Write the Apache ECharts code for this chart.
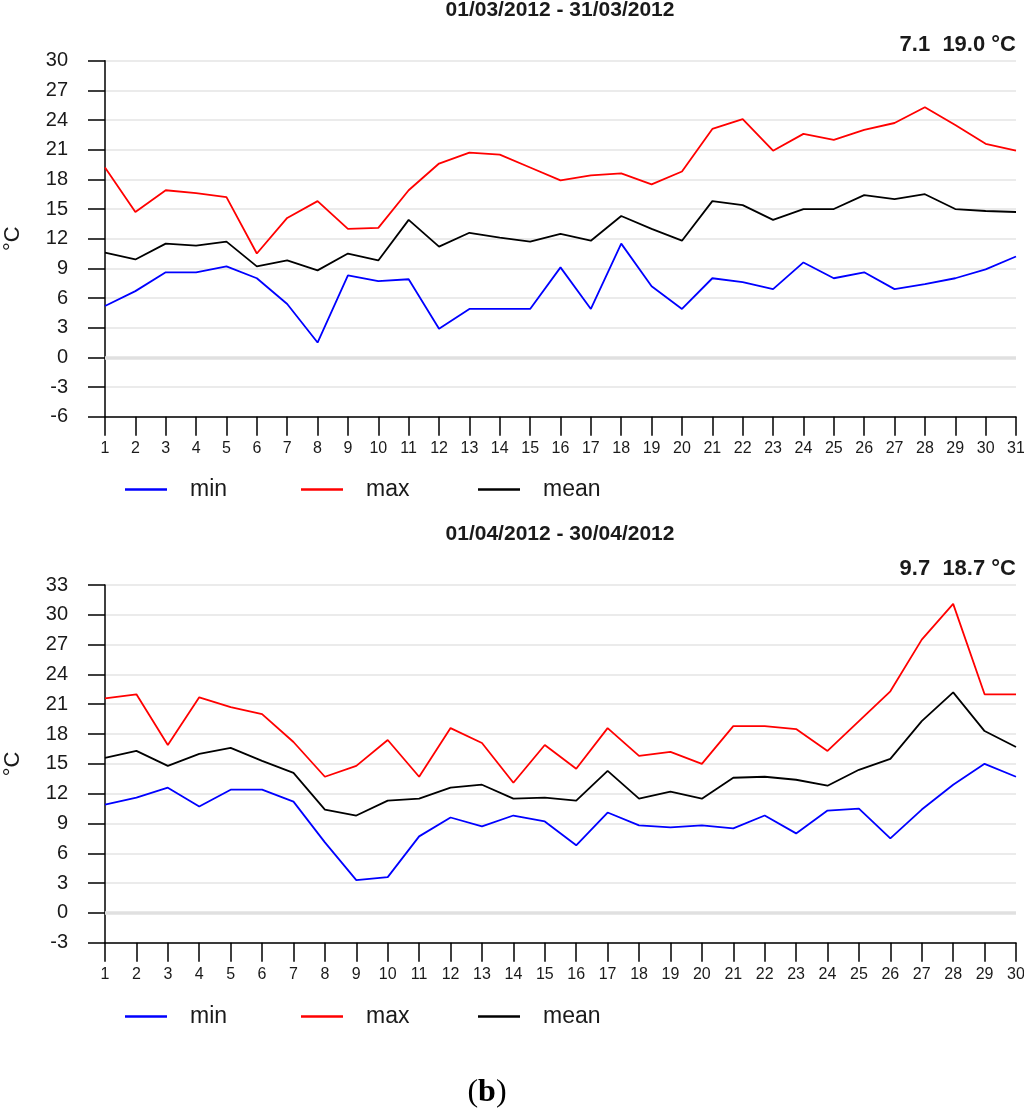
<!DOCTYPE html>
<html>
<head>
<meta charset="utf-8">
<script src="https://cdn.jsdelivr.net/npm/echarts@6/dist/echarts.min.js"></script>
<style>
  html, body { margin: 0; padding: 0; background: #fff; }
  #chart { width: 1024px; height: 1120px; }
</style>
</head>
<body>
<div id="chart"></div>
<script>
// March 2012
const marchDays = [];
for (let d = 1; d <= 31; d++) marchDays.push(d);
const marchMin = [5.2, 6.7, 8.6, 8.6, 9.2, 8.0, 5.4, 1.5, 8.3, 7.7, 7.9, 2.9, 4.9, 4.9, 4.9, 9.1,
  4.9, 11.5, 7.2, 4.9, 8.0, 7.6, 6.9, 9.6, 8.0, 8.6, 6.9, 7.4, 8.0, 8.9, 10.2];
const marchMax = [19.2, 14.7, 16.9, 16.6, 16.2, 10.5, 14.1, 15.8, 13.0, 13.1, 16.9, 19.6, 20.7, 20.5, 19.2, 17.9,
  18.4, 18.6, 17.5, 18.8, 23.1, 24.1, 20.9, 22.6, 22.0, 23.0, 23.7, 25.3, 23.5, 21.6, 20.9];
const marchMean = [10.6, 9.9, 11.5, 11.3, 11.7, 9.2, 9.8, 8.8, 10.5, 9.8, 13.9, 11.2, 12.6, 12.1, 11.7, 12.5,
  11.8, 14.3, 13.0, 11.8, 15.8, 15.4, 13.9, 15.0, 15.0, 16.4, 16.0, 16.5, 15.0, 14.8, 14.7];

// April 2012
const aprilDays = [];
for (let d = 1; d <= 30; d++) aprilDays.push(d);
const aprilMin = [10.9, 11.6, 12.6, 10.7, 12.4, 12.4, 11.2, 7.1, 3.3, 3.6, 7.7, 9.6, 8.7, 9.8, 9.2,
  6.8, 10.1, 8.8, 8.6, 8.8, 8.5, 9.8, 8.0, 10.3, 10.5, 7.5, 10.4, 12.9, 15.0, 13.7];
const aprilMax = [21.6, 22.0, 16.9, 21.7, 20.7, 20.0, 17.2, 13.7, 14.8, 17.4, 13.7, 18.6, 17.1, 13.1, 16.9,
  14.5, 18.6, 15.8, 16.2, 15.0, 18.8, 18.8, 18.5, 16.3, 19.3, 22.3, 27.5, 31.1, 22.0, 22.0];
const aprilMean = [15.6, 16.3, 14.8, 16.0, 16.6, 15.3, 14.1, 10.4, 9.8, 11.3, 11.5, 12.6, 12.9, 11.5, 11.6,
  11.3, 14.3, 11.5, 12.2, 11.5, 13.6, 13.7, 13.4, 12.8, 14.4, 15.5, 19.3, 22.2, 18.3, 16.7];

const titles = ['01/03/2012 - 31/03/2012', '01/04/2012 - 30/04/2012'];
const summaries = ['7.1  19.0 °C', '9.7  18.7 °C'];
const seriesNames = ['min', 'max', 'mean'];
const seriesColors = ['#0000ff', '#ff0000', '#000000'];

const FONT = 'Liberation Sans, Arial, sans-serif';
const TEXT = '#1a1a1a';

const zip = (xs, ys) => xs.map((x, i) => [x, ys[i]]);

const chart = echarts.init(document.getElementById('chart'));

// layout of the two panels
const panels = [
  { top: 60.7, height: 356, yMin: -6, yMax: 30, xMax: 31, days: marchDays,
    data: [marchMin, marchMax, marchMean], legendTop: 478, titleY: 10, subY: 45 },
  { top: 585, height: 357.7, yMin: -3, yMax: 33, xMax: 30, days: aprilDays,
    data: [aprilMin, aprilMax, aprilMean], legendTop: 1005, titleY: 534, subY: 569 }
];

const grid = [], xAxis = [], yAxis = [], series = [], legend = [], graphic = [];

panels.forEach((p, k) => {
  grid.push({ left: 105, right: 8, top: p.top, height: p.height,
    containLabel: false, outerBoundsMode: 'none' });

  xAxis.push({
    type: 'value', gridIndex: k, min: 1, max: p.xMax, interval: 1,
    axisLine: { show: true, onZero: false, lineStyle: { color: '#000', width: 1.5 } },
    axisTick: { show: true, length: 19, lineStyle: { color: '#000', width: 1.5 } },
    axisLabel: { color: TEXT, fontSize: 16, fontFamily: FONT, margin: 24 },
    splitLine: { show: false }
  });

  yAxis.push({
    type: 'value', gridIndex: k, min: p.yMin, max: p.yMax, interval: 3,
    name: '°C', nameLocation: 'middle', nameGap: 81,
    nameTextStyle: { color: TEXT, fontSize: 22, fontFamily: FONT },
    axisLine: { show: true, onZero: false, lineStyle: { color: '#000', width: 1.5 } },
    axisTick: { show: true, length: 17, lineStyle: { color: '#000', width: 1.5 } },
    axisLabel: { color: TEXT, fontSize: 20, fontFamily: FONT, margin: 37 },
    splitLine: { show: true, lineStyle: { color: '#e4e4e4', width: 1.5 } }
  });

  seriesNames.forEach((name, i) => {
    const s = {
      name: name, type: 'line', xAxisIndex: k, yAxisIndex: k,
      data: zip(p.days, p.data[i]),
      symbol: 'none', smooth: false,
      lineStyle: { color: seriesColors[i], width: 1.8 },
      itemStyle: { color: seriesColors[i] },
      z: 3
    };
    if (i === 0) {
      // thicker zero line
      s.markLine = {
        silent: true, symbol: 'none', label: { show: false },
        lineStyle: { color: '#e0e0e0', width: 3.5, type: 'solid' },
        data: [{ yAxis: 0 }]
      };
    }
    series.push(s);
  });

  const legendLeft = [125, 301, 478];
  seriesNames.forEach((name, i) => {
    legend.push({
      data: [name], left: legendLeft[i], top: p.legendTop, padding: 0,
      icon: 'rect', itemWidth: 42, itemHeight: 2.5,
      textStyle: { color: TEXT, fontSize: 23, fontFamily: FONT, padding: [0, 0, 0, 18] }
    });
  });

  graphic.push({
    type: 'text', x: 560, y: p.titleY,
    style: { text: titles[k], font: 'bold 21px ' + FONT, fill: TEXT,
      align: 'center', verticalAlign: 'middle', textAlign: 'center', textVerticalAlign: 'middle' }
  });
  graphic.push({
    type: 'text', x: 1016, y: p.subY,
    style: { text: summaries[k], font: 'bold 22px ' + FONT, fill: TEXT,
      align: 'right', verticalAlign: 'middle', textAlign: 'right', textVerticalAlign: 'middle' }
  });
});

graphic.push({
  type: 'text', x: 487, y: 1093,
  style: {
    text: '{p|(}{b|b}{p|)}', fill: '#000',
    align: 'center', verticalAlign: 'middle', textAlign: 'center', textVerticalAlign: 'middle',
    rich: {
      p: { font: '32px Liberation Serif, Times New Roman, serif', fill: '#000' },
      b: { font: 'bold 32px Liberation Serif, Times New Roman, serif', fill: '#000' }
    }
  }
});

chart.setOption({
  backgroundColor: '#fff',
  animation: false,
  grid: grid,
  xAxis: xAxis,
  yAxis: yAxis,
  legend: legend,
  series: series,
  graphic: graphic
});
</script>
</body>
</html>
